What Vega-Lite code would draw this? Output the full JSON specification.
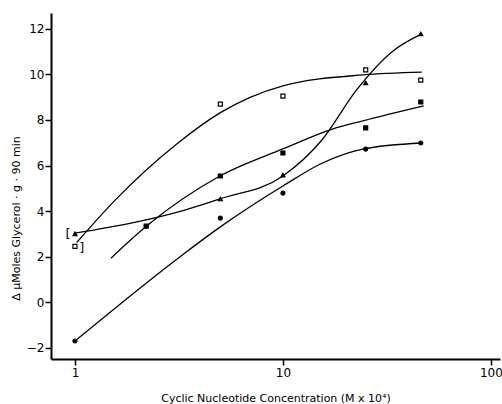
{
  "$schema": "https://vega.github.io/schema/vega-lite/v6.json",
  "width": 449,
  "height": 346,
  "autosize": {"type": "none"},
  "padding": {"left": 51, "top": 13, "right": 2, "bottom": 45},
  "background": "white",
  "config": {
    "view": {"stroke": null},
    "axis": {
      "domainColor": "black", "domainWidth": 2, "tickColor": "black", "tickWidth": 1.5,
      "labelColor": "black", "labelFont": "DejaVu Sans", "labelFontSize": 12,
      "titleColor": "black", "titleFont": "DejaVu Sans", "titleFontSize": 11, "titleFontWeight": "normal",
      "grid": false
    }
  },
  "datasets": {
    "markers": [
      {"s": "open", "x": 1, "y": 2.45}, {"s": "open", "x": 5, "y": 8.7}, {"s": "open", "x": 10, "y": 9.05}, {"s": "open", "x": 25, "y": 10.2}, {"s": "open", "x": 46, "y": 9.75},
      {"s": "tri", "x": 1, "y": 3.0}, {"s": "tri", "x": 5, "y": 4.53}, {"s": "tri", "x": 10, "y": 5.58}, {"s": "tri", "x": 25, "y": 9.63}, {"s": "tri", "x": 46, "y": 11.78},
      {"s": "sq", "x": 2.2, "y": 3.34}, {"s": "sq", "x": 5, "y": 5.54}, {"s": "sq", "x": 10, "y": 6.55}, {"s": "sq", "x": 25, "y": 7.65}, {"s": "sq", "x": 46, "y": 8.79},
      {"s": "circ", "x": 1, "y": -1.71}, {"s": "circ", "x": 5, "y": 3.69}, {"s": "circ", "x": 10, "y": 4.79}, {"s": "circ", "x": 25, "y": 6.72}, {"s": "circ", "x": 46, "y": 6.99}
    ],
    "curves": [
      {"s": "open", "x": 1.02, "y": 2.62}, {"s": "open", "x": 1.56, "y": 4.48}, {"s": "open", "x": 3.13, "y": 6.99}, {"s": "open", "x": 4.98, "y": 8.31}, {"s": "open", "x": 10, "y": 9.5}, {"s": "open", "x": 24.2, "y": 9.98}, {"s": "open", "x": 46.5, "y": 10.1},
      {"s": "sq", "x": 1.49, "y": 1.93}, {"s": "sq", "x": 2.21, "y": 3.34}, {"s": "sq", "x": 4.98, "y": 5.54}, {"s": "sq", "x": 10, "y": 6.73}, {"s": "sq", "x": 17.3, "y": 7.6}, {"s": "sq", "x": 24.2, "y": 7.96}, {"s": "sq", "x": 47.5, "y": 8.62},
      {"s": "tri", "x": 1.0, "y": 3.03}, {"s": "tri", "x": 3.37, "y": 4.04}, {"s": "tri", "x": 4.98, "y": 4.53}, {"s": "tri", "x": 10, "y": 5.54}, {"s": "tri", "x": 15.4, "y": 7.12}, {"s": "tri", "x": 22.6, "y": 9.32}, {"s": "tri", "x": 33.5, "y": 11.0}, {"s": "tri", "x": 46.5, "y": 11.78},
      {"s": "circ", "x": 1.0, "y": -1.71}, {"s": "circ", "x": 3.37, "y": 2.15}, {"s": "circ", "x": 5.14, "y": 3.38}, {"s": "circ", "x": 10, "y": 5.1}, {"s": "circ", "x": 15.4, "y": 6.1}, {"s": "circ", "x": 24.2, "y": 6.72}, {"s": "circ", "x": 46.5, "y": 6.99}
    ],
    "brackets": [
      {"x": 1, "y": 3.0, "t": "[", "side": "left"},
      {"x": 1, "y": 2.45, "t": "]", "side": "right"}
    ]
  },
  "encoding": {
    "x": {
      "field": "x", "type": "quantitative",
      "scale": {"type": "log", "domain": [0.767, 110.6], "nice": false, "zero": false},
      "axis": {"values": [1, 10, 100], "format": "~g", "tickSize": 6, "labelPadding": 2,
               "title": "Cyclic Nucleotide Concentration (M x 10⁴)", "titlePadding": 14}
    },
    "y": {
      "field": "y", "type": "quantitative",
      "scale": {"domain": [-2.5, 12.7], "nice": false, "zero": false},
      "axis": {"values": [-2, 0, 2, 4, 6, 8, 10, 12], "tickSize": 6, "labelPadding": 1,
               "title": "∆ μMoles Glycerol · g · 90 min", "titleX": -30, "titleY": 205, "titleAlign": "center"}
    }
  },
  "layer": [
    {
      "data": {"name": "curves"},
      "mark": {"type": "line", "interpolate": "monotone", "color": "black", "strokeWidth": 1.3},
      "encoding": {"detail": {"field": "s"}}
    },
    {
      "data": {"name": "markers"},
      "mark": {"type": "point", "size": 16, "strokeWidth": 1.2, "stroke": "black", "opacity": 1},
      "encoding": {
        "shape": {"field": "s", "scale": {"domain": ["open", "tri", "sq", "circ"], "range": ["square", "triangle-up", "square", "circle"]}, "legend": null},
        "fill": {"field": "s", "scale": {"domain": ["open", "tri", "sq", "circ"], "range": ["white", "black", "black", "black"]}, "legend": null}
      }
    },
    {
      "data": {"name": "brackets"},
      "transform": [{"filter": "datum.side === 'left'"}],
      "mark": {"type": "text", "dx": -7, "fontSize": 13, "font": "DejaVu Sans", "color": "black"},
      "encoding": {"text": {"field": "t"}}
    },
    {
      "data": {"name": "brackets"},
      "transform": [{"filter": "datum.side === 'right'"}],
      "mark": {"type": "text", "dx": 7, "dy": 2, "fontSize": 12, "font": "DejaVu Sans", "color": "black"},
      "encoding": {"text": {"field": "t"}}
    }
  ]
}
